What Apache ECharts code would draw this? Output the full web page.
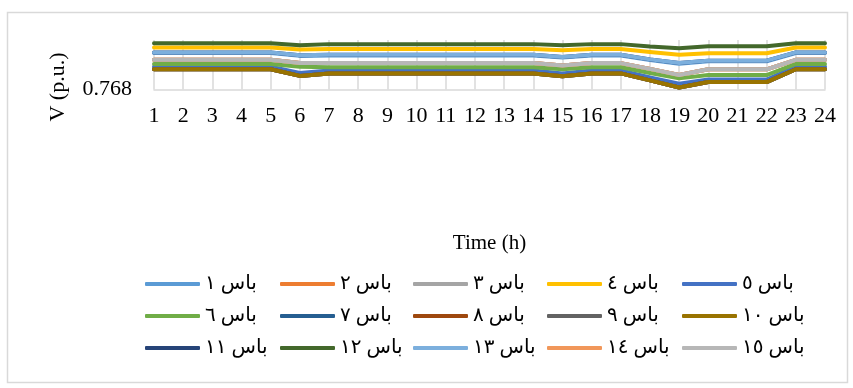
<!DOCTYPE html>
<html><head><meta charset="utf-8">
<script src="https://cdn.jsdelivr.net/npm/echarts@6/dist/echarts.min.js"></script>
<style>html,body{margin:0;padding:0;background:#fff}#c{width:853px;height:388px}</style>
</head><body><div id="c"></div>
<script>
const hours = ['1','2','3','4','5','6','7','8','9','10','11','12','13','14','15','16','17','18','19','20','21','22','23','24'];
const busNames = ['باس ١','باس ٢','باس ٣','باس ٤','باس ٥','باس ٦','باس ٧','باس ٨','باس ٩','باس ١٠','باس ١١','باس ١٢','باس ١٣','باس ١٤','باس ١٥'];
const busColors = ['#5B9BD5','#ED7D31','#A5A5A5','#FFC000','#4472C4','#70AD47','#255E91','#9E480E','#636363','#997300','#264478','#43682B','#7CAFDD','#F1975A','#B7B7B7'];

const bus1  = [0.77685,0.77685,0.77685,0.77685,0.77685,0.77615,0.77625,0.77625,0.77625,0.77625,0.77625,0.77625,0.77625,0.77625,0.77575,0.77625,0.77625,0.77515,0.77425,0.77485,0.77485,0.77485,0.77685,0.77685];
const bus2  = [0.7752,0.7752,0.7752,0.7752,0.7752,0.7744,0.7744,0.7744,0.7744,0.7744,0.7744,0.7744,0.7744,0.7744,0.7738,0.7744,0.7744,0.7730,0.7715,0.7729,0.7729,0.7729,0.7752,0.7752];
const bus3  = [0.7752,0.7752,0.7752,0.7752,0.7752,0.7744,0.7744,0.7744,0.7744,0.7744,0.7744,0.7744,0.7744,0.7744,0.7738,0.7744,0.7744,0.7730,0.7715,0.7729,0.7729,0.7729,0.7752,0.7752];
const bus4  = [0.7782,0.7782,0.7782,0.7782,0.7782,0.7777,0.7778,0.7778,0.7778,0.7778,0.7778,0.7778,0.7778,0.7778,0.7775,0.7778,0.7778,0.7771,0.7764,0.7768,0.7768,0.7768,0.7782,0.7782];
const bus5  = [0.7735,0.7735,0.7735,0.7735,0.7735,0.7720,0.7726,0.7726,0.7726,0.7726,0.7726,0.7726,0.7726,0.7726,0.7719,0.7726,0.7726,0.7709,0.7694,0.7704,0.7704,0.7704,0.7735,0.7735];
const bus6  = [0.7742,0.7742,0.7742,0.7742,0.7742,0.7735,0.7734,0.7734,0.7734,0.7734,0.7734,0.7734,0.7734,0.7734,0.7729,0.7734,0.7734,0.7720,0.7707,0.7715,0.7715,0.7715,0.7742,0.7742];
const bus7  = [0.7729,0.7729,0.7729,0.7729,0.7729,0.7713,0.7719,0.7719,0.7719,0.7719,0.7719,0.7719,0.7719,0.7719,0.7712,0.7719,0.7719,0.7702,0.7685,0.7698,0.7698,0.7698,0.7729,0.7729];
const bus8  = [0.7729,0.7729,0.7729,0.7729,0.7729,0.7713,0.7719,0.7719,0.7719,0.7719,0.7719,0.7719,0.7719,0.7719,0.7712,0.7719,0.7719,0.7702,0.7685,0.7698,0.7698,0.7698,0.7729,0.7729];
const bus9  = [0.7729,0.7729,0.7729,0.7729,0.7729,0.7713,0.7719,0.7719,0.7719,0.7719,0.7719,0.7719,0.7719,0.7719,0.7712,0.7719,0.7719,0.7702,0.7685,0.7698,0.7698,0.7698,0.7729,0.7729];
const bus10 = [0.7729,0.7729,0.7729,0.7729,0.7729,0.7713,0.7719,0.7719,0.7719,0.7719,0.7719,0.7719,0.7719,0.7719,0.7712,0.7719,0.7719,0.7702,0.7685,0.7698,0.7698,0.7698,0.7729,0.7729];
const bus11 = [0.7770,0.7770,0.7770,0.7770,0.7770,0.7763,0.7764,0.7764,0.7764,0.7764,0.7764,0.7764,0.7764,0.7764,0.7759,0.7764,0.7764,0.7753,0.7744,0.7750,0.7750,0.7750,0.7770,0.7770];
const bus12 = [0.7792,0.7792,0.7792,0.7792,0.7792,0.7787,0.7790,0.7790,0.7790,0.7790,0.7790,0.7790,0.7790,0.7790,0.7787,0.7790,0.7790,0.7784,0.7780,0.7785,0.7785,0.7785,0.7792,0.7792];
const bus13 = [0.7770,0.7770,0.7770,0.7770,0.7770,0.7763,0.7764,0.7764,0.7764,0.7764,0.7764,0.7764,0.7764,0.7764,0.7759,0.7764,0.7764,0.7753,0.7744,0.7750,0.7750,0.7750,0.7770,0.7770];
const bus14 = [0.7752,0.7752,0.7752,0.7752,0.7752,0.7744,0.7744,0.7744,0.7744,0.7744,0.7744,0.7744,0.7744,0.7744,0.7738,0.7744,0.7744,0.7730,0.7715,0.7729,0.7729,0.7729,0.7752,0.7752];
const bus15 = [0.7752,0.7752,0.7752,0.7752,0.7752,0.7744,0.7744,0.7744,0.7744,0.7744,0.7744,0.7744,0.7744,0.7744,0.7738,0.7744,0.7744,0.7730,0.7715,0.7729,0.7729,0.7729,0.7752,0.7752];
const busData = [bus1,bus2,bus3,bus4,bus5,bus6,bus7,bus8,bus9,bus10,bus11,bus12,bus13,bus14,bus15];
const yMin = 0.768, yMax = 0.780;

const FONT = '"Liberation Serif", "DejaVu Serif", "DejaVu Sans", serif';
const chart = echarts.init(document.getElementById('c'), null, {renderer: 'canvas'});

const series = busNames.map((n, i) => ({
  name: n, type: 'line', data: busData[i], symbol: 'none', showSymbol: false,
  lineStyle: {width: 4, color: busColors[i], cap: 'round', join: 'round'},
  itemStyle: {color: busColors[i]}, emphasis: {disabled: true}, animation: false
}));

const colX = [145, 280, 413, 547, 682];
const rowY = [274, 306, 338];
const legends = busNames.map((n, i) => ({
  data: [n], left: colX[i % 5], top: rowY[Math.floor(i / 5)],
  icon: 'roundRect', itemWidth: 55, itemHeight: 4, itemGap: 0,
  textStyle: {fontSize: 20, fontFamily: FONT, color: '#000', padding: [0, 0, 0, 0]},
  selectedMode: false, padding: 0
}));

chart.setOption({
  animation: false,
  backgroundColor: '#fff',
  grid: {left: 154, right: 28, top: 40, bottom: 298.5, containLabel: false},
  xAxis: {
    type: 'category', data: hours, boundaryGap: false,
    axisLine: {lineStyle: {color: '#D9D9D9', width: 1.5}},
    axisTick: {show: false},
    splitLine: {show: true, lineStyle: {color: '#D9D9D9', width: 1.5}},
    axisLabel: {fontSize: 22, fontFamily: FONT, color: '#000', margin: 16, interval: 0},
    name: 'Time (h)', nameLocation: 'middle', nameGap: 143,
    nameTextStyle: {fontSize: 21, fontFamily: FONT, color: '#000'}
  },
  yAxis: {
    type: 'value', min: yMin, max: yMax, interval: 0.012,
    axisLine: {show: false}, axisTick: {show: false}, splitLine: {show: false},
    axisLabel: {fontSize: 22, fontFamily: FONT, color: '#000', margin: 22,
      formatter: v => Math.abs(v - yMin) < 1e-9 ? '0.768' : ''}
  },
  legend: legends,
  series: series,
  graphic: [
    {type: 'rect', shape: {x: 7.5, y: 12.5, width: 840, height: 370},
     style: {fill: 'none', stroke: '#D9D9D9', lineWidth: 1.5}, silent: true},
    {type: 'text', x: 58, y: 87, rotation: Math.PI / 2,
     style: {text: 'V (p.u.)', fontSize: 22, fontFamily: FONT, fill: '#000', align: 'center', verticalAlign: 'middle'}}
  ]
});
</script></body></html>
